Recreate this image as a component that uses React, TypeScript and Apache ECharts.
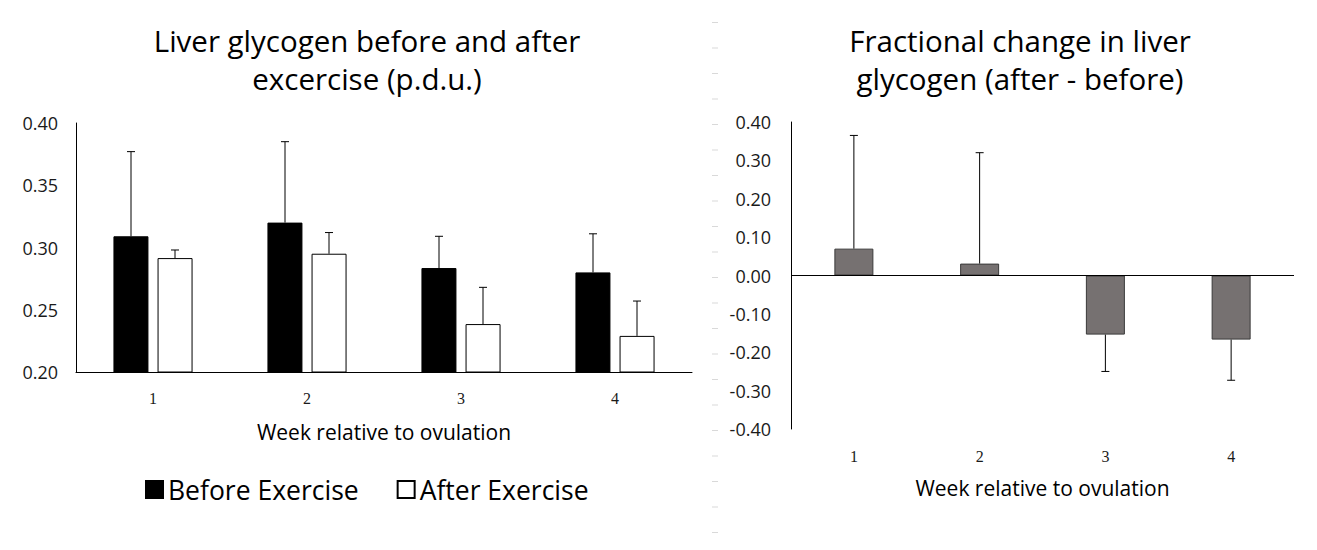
import React, { useEffect, useRef } from "react";
import * as echarts from "echarts";

const weeks = ["1", "2", "3", "4"];
const beforeValues = [0.309, 0.32, 0.2835, 0.28];
const beforeErrTop = [0.377, 0.385, 0.309, 0.311];
const afterValues = [0.2915, 0.295, 0.2385, 0.229];
const afterErrTop = [0.298, 0.312, 0.268, 0.257];
const changeValues = [0.07, 0.031, -0.154, -0.167];
const changeErrEnd = [0.365, 0.32, -0.25, -0.273];

const FONT = "Open Sans";
const TICK_FONT = "Liberation Serif";

function errSeries(name: string, xi: number, yi: number, vals: number[], ends: number[], offset: number) {
  return {
    type: "custom",
    name,
    xAxisIndex: xi,
    yAxisIndex: yi,
    z: 5,
    data: vals.map((v, i) => [i, v, ends[i]]),
    renderItem: (params: any, api: any) => {
      const i = api.value(0);
      const base = api.coord([i, api.value(1)]);
      const end = api.coord([i, api.value(2)]);
      const x = base[0] + offset;
      const st = { stroke: "#000", lineWidth: 1 };
      return {
        type: "group",
        children: [
          { type: "line", shape: { x1: x, y1: base[1], x2: x, y2: end[1] }, style: st },
          { type: "line", shape: { x1: x - 4, y1: end[1], x2: x + 4, y2: end[1] }, style: st },
        ],
      };
    },
  };
}

export default function App() {
  const ref = useRef<HTMLDivElement>(null);
  useEffect(() => {
    const chart = echarts.init(ref.current!, null, { renderer: "svg" });
    const xLabelStyle = { color: "#1a1a1a", fontSize: 16, fontFamily: TICK_FONT };
    const yLabelStyle = { color: "#1a1a1a", fontSize: 18, fontFamily: FONT };
    const titleStyle = { fontSize: 29.5, fontWeight: "normal", color: "#000", lineHeight: 38, fontFamily: FONT };
    const nameStyle = { fontSize: 21, color: "#000", fontFamily: FONT };
    chart.setOption({
      animation: false,
      textStyle: { fontFamily: FONT },
      title: [
        {
          text: "Liver glycogen before and after\nexcercise (p.d.u.)",
          left: 362,
          top: 16,
          textAlign: "center",
          textStyle: titleStyle,
        },
        {
          text: "Fractional change in liver\nglycogen (after - before)",
          left: 1015,
          top: 16,
          textAlign: "center",
          textStyle: titleStyle,
        },
      ],
      legend: {
        data: ["Before Exercise", "After Exercise"],
        left: 140,
        top: 471,
        icon: "rect",
        itemWidth: 17,
        itemHeight: 17,
        itemGap: 38,
        textStyle: { fontSize: 26.5, color: "#000", fontFamily: FONT },
      },
      grid: [
        { left: 76, top: 123, width: 616, height: 249 },
        { left: 791, top: 122, width: 503, height: 307 },
      ],
      xAxis: [
        {
          type: "category",
          gridIndex: 0,
          data: weeks,
          axisLine: { lineStyle: { color: "#000", width: 1 } },
          axisTick: { show: false },
          axisLabel: { ...xLabelStyle, margin: 18 },
          name: "Week relative to ovulation",
          nameLocation: "middle",
          nameGap: 49,
          nameTextStyle: nameStyle,
        },
        {
          type: "category",
          gridIndex: 1,
          data: weeks,
          axisLine: { show: false },
          axisTick: { show: false },
          axisLabel: { ...xLabelStyle, margin: 19 },
          name: "Week relative to ovulation",
          nameLocation: "middle",
          nameGap: 48,
          nameTextStyle: nameStyle,
        },
      ],
      yAxis: [
        {
          type: "value",
          gridIndex: 0,
          min: 0.2,
          max: 0.4,
          interval: 0.05,
          axisLine: { show: true, lineStyle: { color: "#000", width: 1 } },
          axisTick: { show: false },
          splitLine: { show: false },
          axisLabel: { ...yLabelStyle, margin: 18, formatter: (v: number) => v.toFixed(2) },
        },
        {
          type: "value",
          gridIndex: 1,
          min: -0.4,
          max: 0.4,
          interval: 0.1,
          axisLine: { show: true, lineStyle: { color: "#000", width: 1 } },
          axisTick: { show: false },
          splitLine: { show: false },
          axisLabel: { ...yLabelStyle, margin: 20, formatter: (v: number) => v.toFixed(2) },
        },
      ],
      series: [
        {
          type: "bar",
          name: "Before Exercise",
          xAxisIndex: 0,
          yAxisIndex: 0,
          data: beforeValues,
          barWidth: 35,
          barGap: "26%",
          clip: true,
          itemStyle: { color: "#000", borderColor: "#000", borderWidth: 1 },
        },
        {
          type: "bar",
          name: "After Exercise",
          xAxisIndex: 0,
          yAxisIndex: 0,
          data: afterValues,
          barWidth: 35,
          barGap: "26%",
          clip: true,
          itemStyle: { color: "#fff", borderColor: "#000", borderWidth: 1 },
        },
        errSeries("beforeErr", 0, 0, beforeValues, beforeErrTop, -22),
        errSeries("afterErr", 0, 0, afterValues, afterErrTop, 22),
        {
          type: "bar",
          name: "Change",
          xAxisIndex: 1,
          yAxisIndex: 1,
          data: changeValues,
          barWidth: 39,
          itemStyle: { color: "#767171", borderColor: "#3a3a3a", borderWidth: 1 },
          markLine: {
            silent: true,
            symbol: "none",
            label: { show: false },
            lineStyle: { color: "#000", width: 1, type: "solid" },
            data: [{ yAxis: 0 }],
          },
        },
        errSeries("changeErr", 1, 1, changeValues, changeErrEnd, 0),
      ],
      graphic: [
        {
          type: "line",
          shape: { x1: 715, y1: 22, x2: 715, y2: 550 },
          style: { stroke: "#d9d9d9", lineWidth: 6, lineDash: [1, 24.5] },
          silent: true,
        },
      ],
    });
    return () => chart.dispose();
  }, []);
  return <div ref={ref} style={{ position: "absolute", left: 0, top: 0, width: 1317, height: 550 }} />;
}
